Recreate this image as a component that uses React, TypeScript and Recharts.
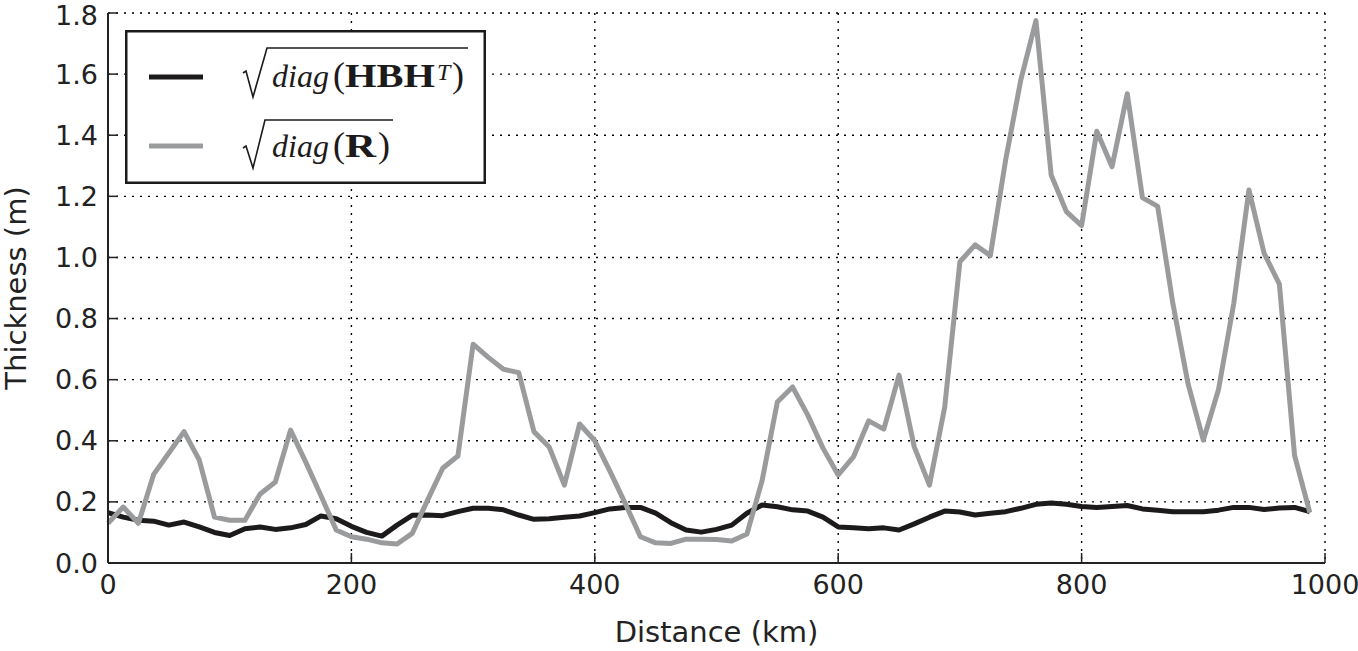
import React from 'react';
import { LineChart, Line, XAxis, YAxis, CartesianGrid, Legend } from 'recharts';

const distanceKm = [
  0, 12.5, 25, 37.5, 50, 62.5, 75, 87.5, 100, 112.5, 125, 137.5, 150, 162.5, 175, 187.5,
  200, 212.5, 225, 237.5, 250, 262.5, 275, 287.5, 300, 312.5, 325, 337.5, 350, 362.5, 375, 387.5,
  400, 412.5, 425, 437.5, 450, 462.5, 475, 487.5, 500, 512.5, 525, 537.5, 550, 562.5, 575, 587.5,
  600, 612.5, 625, 637.5, 650, 662.5, 675, 687.5, 700, 712.5, 725, 737.5, 750, 762.5, 775, 787.5,
  800, 812.5, 825, 837.5, 850, 862.5, 875, 887.5, 900, 912.5, 925, 937.5, 950, 962.5, 975, 987.5,
];

const sqrtDiagHBHT = [
  0.165, 0.15, 0.14, 0.137, 0.124, 0.134, 0.118, 0.1, 0.09, 0.112, 0.118, 0.11, 0.115, 0.126, 0.154, 0.145,
  0.12, 0.1, 0.088, 0.124, 0.156, 0.157, 0.155, 0.168, 0.179, 0.179, 0.174, 0.157, 0.143, 0.145, 0.15, 0.154,
  0.165, 0.177, 0.182, 0.182, 0.163, 0.132, 0.108, 0.101, 0.11, 0.124, 0.163, 0.19, 0.184, 0.174, 0.17, 0.15,
  0.118, 0.115, 0.112, 0.115, 0.108, 0.128, 0.15, 0.17, 0.167, 0.157, 0.163, 0.168, 0.179, 0.192, 0.196, 0.192,
  0.185, 0.182, 0.185, 0.188, 0.177, 0.173, 0.168, 0.168, 0.168, 0.173, 0.182, 0.182, 0.175, 0.18, 0.182, 0.168,
];

const sqrtDiagR = [
  0.13, 0.183, 0.13, 0.29, 0.36, 0.43, 0.337, 0.15, 0.14, 0.14, 0.226, 0.265, 0.435, 0.33, 0.22, 0.108,
  0.086, 0.078, 0.066, 0.062, 0.097, 0.205, 0.31, 0.35, 0.716, 0.673, 0.634, 0.623, 0.43, 0.38, 0.255, 0.455,
  0.4, 0.3, 0.195, 0.086, 0.066, 0.064, 0.078, 0.078, 0.077, 0.072, 0.095, 0.27, 0.527, 0.576, 0.484, 0.376,
  0.288, 0.347, 0.465, 0.438, 0.615, 0.38, 0.255, 0.51, 0.986, 1.041, 1.006, 1.317, 1.58, 1.775, 1.27, 1.15,
  1.104, 1.413, 1.297, 1.536, 1.196, 1.167, 0.849, 0.586, 0.402, 0.568, 0.849, 1.221, 1.013, 0.913, 0.352, 0.165,
];

const xTicks = [0, 200, 400, 600, 800, 1000];
const yTicks = [0, 0.2, 0.4, 0.6, 0.8, 1.0, 1.2, 1.4, 1.6, 1.8];

const data = distanceKm.map((d, i) => ({ d, hbh: sqrtDiagHBHT[i], r: sqrtDiagR[i] }));

const BLACK = '#1c1a1a';
const GRAY = '#9a9b9d';
const AXIS = '#222';
const tickStyle = { fontFamily: 'DejaVu Sans', fontSize: 27, fill: AXIS };
const mathFont = 'Liberation Serif';

const LegendBox = () => (
  <svg width={362} height={155} style={{ display: 'block' }}>
    <rect x={1.25} y={1.25} width={358.5} height={151.5} fill="#fff" stroke={BLACK} strokeWidth={2.5} />
    <line x1={24} x2={78} y1={47} y2={47} stroke={BLACK} strokeWidth={5} />
    <line x1={24} x2={78} y1={116} y2={116} stroke={GRAY} strokeWidth={5} />
    <path d="M118,43 L121,41 L128,67 L142,18 L343,18" fill="none" stroke={BLACK} strokeWidth={1.6} />
    <text y={57} fontFamily={mathFont} fontSize={36} fill={BLACK}>
      <tspan x={147} fontStyle="italic" fontSize={32}>diag</tspan>
      <tspan x={208}>(</tspan>
      <tspan x={220} fontWeight="bold" fontSize={34} textLength={90} lengthAdjust="spacingAndGlyphs">HBH</tspan>
      <tspan x={312} y={50} fontStyle="italic" fontSize={24}>T</tspan>
      <tspan x={327} y={57}>)</tspan>
    </text>
    <path d="M118,118 L121,116 L128,138 L140,90 L268,90" fill="none" stroke={BLACK} strokeWidth={1.6} />
    <text y={127} fontFamily={mathFont} fontSize={36} fill={BLACK}>
      <tspan x={147} fontStyle="italic" fontSize={32}>diag</tspan>
      <tspan x={208}>(</tspan>
      <tspan x={220} fontWeight="bold" fontSize={34} textLength={31} lengthAdjust="spacingAndGlyphs">R</tspan>
      <tspan x={253}>)</tspan>
    </text>
  </svg>
);

const YLabel = (props: any) => {
  const vb = props.viewBox || { x: 48, y: 13, height: 550 };
  const cx = vb.x - 22;
  const cy = vb.y + vb.height / 2;
  return (
    <text x={cx} y={cy} transform={`rotate(-90 ${cx} ${cy})`} textAnchor="middle"
      fontFamily="DejaVu Sans" fontSize={29} fill={AXIS}>Thickness (m)</text>
  );
};

const XLabel = (props: any) => {
  const vb = props.viewBox || { x: 108, y: 563, width: 1217 };
  return (
    <text x={vb.x + vb.width / 2} y={vb.y + 79} textAnchor="middle"
      fontFamily="DejaVu Sans" fontSize={29} fill={AXIS}>Distance (km)</text>
  );
};

export default function App() {
  return (
    <div style={{ position: 'absolute', left: 0, top: 0, width: 1358, height: 651, background: '#fff' }}>
      <LineChart width={1358} height={651} data={data} margin={{ top: 13, right: 33, bottom: 28, left: 48 }}>
        <CartesianGrid stroke="#000" strokeWidth={1.4} strokeDasharray="2 6" />
        <XAxis dataKey="d" type="number" domain={[0, 1000]} ticks={xTicks} height={60}
          tick={tickStyle} tickSize={-10} tickMargin={22}
          axisLine={{ stroke: AXIS, strokeWidth: 2 }} tickLine={{ stroke: AXIS, strokeWidth: 1.5 }}
          label={<XLabel />} />
        <XAxis xAxisId="top" orientation="top" dataKey="d" type="number" domain={[0, 1000]} ticks={xTicks} height={0}
          tick={false} tickSize={-10}
          axisLine={{ stroke: AXIS, strokeWidth: 2 }} tickLine={{ stroke: AXIS, strokeWidth: 1.5 }} />
        <YAxis type="number" domain={[0, 1.8]} ticks={yTicks} width={60}
          tickFormatter={(v: number) => v.toFixed(1)}
          tick={tickStyle} tickSize={-10} tickMargin={20}
          axisLine={{ stroke: AXIS, strokeWidth: 2 }} tickLine={{ stroke: AXIS, strokeWidth: 1.5 }}
          label={<YLabel />} />
        <YAxis yAxisId="r" orientation="right" type="number" domain={[0, 1.8]} ticks={yTicks} width={0}
          tick={false} tickSize={-10}
          axisLine={{ stroke: AXIS, strokeWidth: 2 }} tickLine={{ stroke: AXIS, strokeWidth: 1.5 }} />
        <Legend layout="vertical" align="center" verticalAlign="middle"
          wrapperStyle={{ left: 125, top: 30, width: 362, height: 155 }}
          content={() => <LegendBox />} />
        <Line dataKey="hbh" stroke={BLACK} strokeWidth={5} dot={false} isAnimationActive={false} strokeLinejoin="round" />
        <Line dataKey="r" stroke={GRAY} strokeWidth={5} dot={false} isAnimationActive={false} strokeLinejoin="round" />
      </LineChart>
    </div>
  );
}
